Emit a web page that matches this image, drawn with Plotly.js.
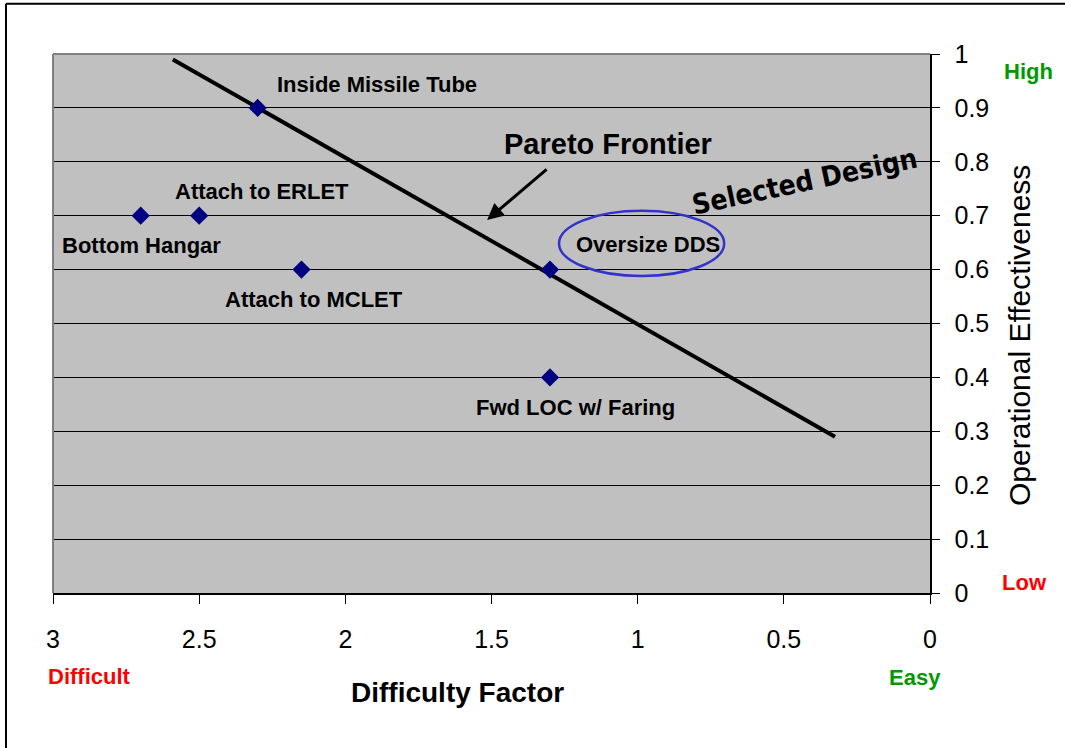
<!DOCTYPE html>
<html><head><meta charset="utf-8">
<script src="https://cdn.plot.ly/plotly-3.0.1.min.js"></script>
<style>body{margin:0;background:#fff}#c{width:1065px;height:748px}</style>
</head><body><div id="c"></div>
<script>
// Data
const designNames = ["Inside Missile Tube","Attach to ERLET","Bottom Hangar","Attach to MCLET","Oversize DDS","Fwd LOC w/ Faring"];
const difficulty = [2.3, 2.5, 2.7, 2.15, 1.3, 1.3];
const effectiveness = [0.9, 0.7, 0.7, 0.6, 0.6, 0.4];
const paretoX = [2.59, 0.325];
const paretoY = [0.99, 0.29];
const xTicks = [3, 2.5, 2, 1.5, 1, 0.5, 0];
const yTicks = [0,0.1,0.2,0.3,0.4,0.5,0.6,0.7,0.8,0.9,1];

const F = "Liberation Sans, Arial, sans-serif";
const labelPos = {
  "Inside Missile Tube":[1.892,0.944],
  "Attach to ERLET":[2.285,0.744],
  "Bottom Hangar":[2.696,0.644],
  "Attach to MCLET":[2.107,0.545],
  "Oversize DDS":[0.965,0.647],
  "Fwd LOC w/ Faring":[1.214,0.345]
};
const anns = designNames.map(n => ({x:labelPos[n][0], y:labelPos[n][1], xref:'x', yref:'y', text:'<b>'+n+'</b>', showarrow:false,
  xanchor:'center', yanchor:'middle', font:{family:F, size:22, color:'#000'}}));
anns.push({x:1.101, y:0.833, text:'<b>Pareto Frontier</b>', showarrow:false, xanchor:'center', yanchor:'middle',
  font:{family:F, size:29, color:'#000'}});
anns.push({x:1.515, y:0.692, ax:61, ay:-52, text:'', showarrow:true, arrowhead:2, arrowsize:1.1, arrowwidth:3, arrowcolor:'#000'});
anns.push({x:0.428, y:0.763, text:'<b>Selected Design</b>', showarrow:false, textangle:-12, xanchor:'center', yanchor:'middle',
  font:{family:"DejaVu Sans Condensed, Liberation Sans Narrow, sans-serif", size:28, color:'#000'}});
anns.push({x:0.4607, y:-0.1837, xref:'paper', yref:'paper', text:'<b>Difficulty Factor</b>', showarrow:false,
  xanchor:'center', yanchor:'middle', font:{family:F, size:28, color:'#000'}});
anns.push({x:1.1026, y:0.4787, xref:'paper', yref:'paper', text:'Operational Effectiveness', showarrow:false, textangle:-90,
  xanchor:'center', yanchor:'middle', font:{family:F, size:30, color:'#000'}});
const side = [["High",1.112,0.968,'#009900'],["Low",1.108,0.020,'#ff0000'],["Difficult",0.042,-0.154,'#ff0000'],["Easy",0.983,-0.156,'#009900']];
side.forEach(s => anns.push({x:s[1], y:s[2], xref:'paper', yref:'paper', text:'<b>'+s[0]+'</b>', showarrow:false,
  xanchor:'center', yanchor:'middle', font:{family:F, size:22, color:s[3]}}));

const traces = [
  {x:paretoX, y:paretoY, mode:'lines', line:{color:'#000', width:4}, hoverinfo:'skip'},
  {x:difficulty, y:effectiveness, mode:'markers', marker:{symbol:'diamond', size:14, color:'#000080'}, text:designNames}
];
const layout = {
  width:1065, height:748, showlegend:false,
  margin:{l:53, r:135, t:54, b:155},
  paper_bgcolor:'#fff', plot_bgcolor:'#c0c0c0',
  font:{family:F, color:'#000'},
  xaxis:{range:[3,0], tickvals:xTicks, ticks:'outside', ticklen:9, tickcolor:'#000', showline:true, linecolor:'#000', linewidth:1.5,
    showgrid:false, zeroline:false, tickfont:{size:25}, ticklabelstandoff:14},
  yaxis:{range:[0,1], side:'right', tickvals:yTicks, ticks:'outside', ticklen:8, tickcolor:'#000', showline:true, linecolor:'#000', linewidth:1.5,
    showgrid:true, gridcolor:'#000', gridwidth:1, zeroline:false, tickfont:{size:25}, ticklabelstandoff:10},
  annotations:anns,
  shapes:[
    {type:'circle', xref:'x', yref:'y', x0:1.269, x1:0.704, y0:0.588, y1:0.709, line:{color:'#3333cc', width:2.5}},
    {type:'line', xref:'paper', yref:'paper', x0:0, x1:0, y0:0, y1:1, line:{color:'#808080', width:2}},
    {type:'line', xref:'paper', yref:'paper', x0:0, x1:1, y0:1, y1:1, line:{color:'#808080', width:2}},
    {type:'line', xref:'paper', yref:'paper', x0:-0.0536, x1:-0.0536, y0:-0.3, y1:1.093, line:{color:'#000', width:2}},
    {type:'line', xref:'paper', yref:'paper', x0:-0.0536, x1:1.2, y0:1.093, y1:1.093, line:{color:'#000', width:2}}
  ]
};
Plotly.newPlot('c', traces, layout, {displayModeBar:false, staticPlot:true});
</script></body></html>
